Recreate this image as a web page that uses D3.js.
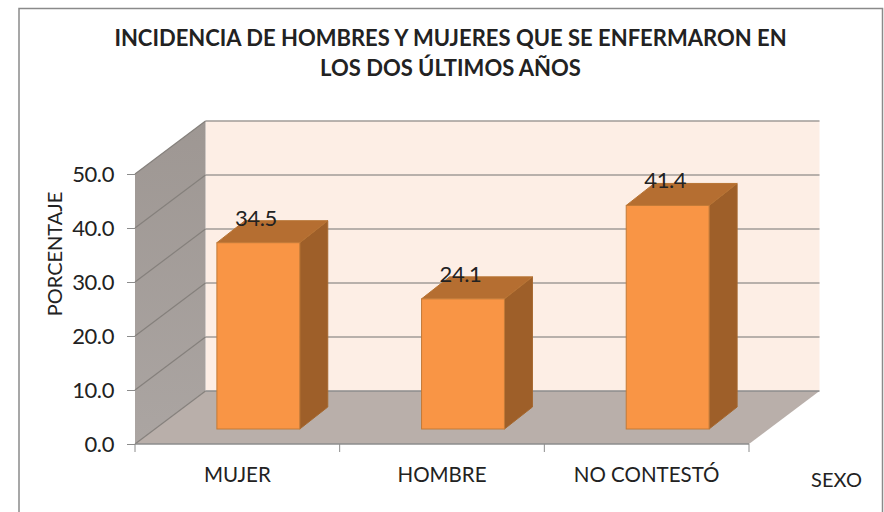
<!DOCTYPE html>
<html>
<head>
<meta charset="utf-8">
<script src="https://cdn.jsdelivr.net/npm/d3@7"></script>
<style>
body { margin: 0; background: #fff; }
text { font-family: Lato, "Open Sans", sans-serif; fill: #222; }
.axis path { display: none; }
.axis line { stroke: #8c8c8c; }
</style>
</head>
<body>
<div id="chart"></div>
<script>
//chart values
var categories = ["MUJER", "HOMBRE", "NO CONTESTÓ"];
var values = [34.5, 24.1, 41.4];
var yTicks = [0, 10, 20, 30, 40, 50];
var titleLines = ["INCIDENCIA DE HOMBRES Y MUJERES QUE SE ENFERMARON EN", "LOS DOS ÚLTIMOS AÑOS"];

//svg dimensions
var svgW = 884;
var svgH = 512;

//plot box, front edge of the floor
var left = 135, right = 749, bottom = 444, top50 = 174;

//3d offsets: wall depth and bar depth
var depthX = 70.5, depthY = -53;
var barDepthX = 28, barDepthY = -22;
//bars stand a bit behind the front edge of the floor
var barShiftX = 21, barShiftY = -15;

var svg = d3.select("#chart").append("svg")
    .attr("width", svgW)
    .attr("height", svgH);

//side wall gets lighter towards the floor
var wallGradient = svg.append("defs").append("linearGradient")
    .attr("id", "sideWall")
    .attr("x1", 0).attr("x2", 0)
    .attr("y1", 0).attr("y2", 1);
wallGradient.append("stop").attr("offset", "0%").attr("stop-color", "#9e9793");
wallGradient.append("stop").attr("offset", "100%").attr("stop-color", "#aba5a2");

//scales
var x = d3.scaleBand()
    .domain(categories)
    .range([left, right])
    .paddingInner(0.595)
    .paddingOuter(0.2975);

var y = d3.scaleLinear()
    .domain([0, 50])
    .range([bottom, top50]);

function poly(points, fill, stroke) {
    return svg.append("polygon")
        .attr("points", points.map(p => p.join(",")).join(" "))
        .attr("fill", fill)
        .attr("stroke", stroke || "none");
}

//outer frame
svg.append("path")
    .attr("d", "M19,512V8.5H882.5V512")
    .attr("fill", "none")
    .attr("stroke", "#8a8a8a")
    .attr("stroke-width", 1.5);

//back wall
poly([[left + depthX, y(50) + depthY], [right + depthX, y(50) + depthY],
    [right + depthX, y(0) + depthY], [left + depthX, y(0) + depthY]], "#fdeee5");

//side wall
poly([[left, y(50)], [left + depthX, y(50) + depthY],
    [left + depthX, y(0) + depthY], [left, y(0)]], "url(#sideWall)");

//floor
poly([[left, y(0)], [left + depthX, y(0) + depthY],
    [right + depthX, y(0) + depthY], [right, y(0)]], "#b9afaa");

//gridlines on the back wall
svg.append("g")
    .attr("stroke-width", 1.5)
    .selectAll("line")
    .data(yTicks)
    .enter()
    .append("line")
    .attr("x1", left + depthX)
    .attr("x2", right + depthX)
    .attr("y1", d => y(d) + depthY)
    .attr("y2", d => y(d) + depthY)
    .attr("stroke", d => d === 0 ? "#8c8c8c" : "#a19b97");

//gridlines on the side wall
svg.append("g")
    .attr("stroke-width", 1.2)
    .selectAll("line")
    .data(yTicks)
    .enter()
    .append("line")
    .attr("x1", left)
    .attr("x2", left + depthX)
    .attr("y1", d => y(d))
    .attr("y2", d => y(d) + depthY)
    .attr("stroke", "#85807c");

//bars
var barGroup = svg.selectAll(".bar")
    .data(values)
    .enter()
    .append("g")
    .classed("bar", true);

barGroup.each(function(d, i) {
    var g = d3.select(this);
    var x0 = x(categories[i]) + barShiftX;
    var x1 = x0 + x.bandwidth();
    var yTop = y(d) + barShiftY;
    var yBase = y(0) + barShiftY;
    var pts = a => a.map(p => p.join(",")).join(" ");

    //right side
    g.append("polygon")
        .attr("points", pts([[x1, yTop], [x1 + barDepthX, yTop + barDepthY], [x1 + barDepthX, yBase + barDepthY], [x1, yBase]]))
        .attr("fill", "#9e5f29")
        .attr("stroke", "#a5682f");

    //top
    g.append("polygon")
        .attr("points", pts([[x0, yTop], [x0 + barDepthX, yTop + barDepthY], [x1 + barDepthX, yTop + barDepthY], [x1, yTop]]))
        .attr("fill", "#b56e31")
        .attr("stroke", "#b87434");

    //front
    g.append("rect")
        .attr("x", x0)
        .attr("y", yTop)
        .attr("width", x.bandwidth())
        .attr("height", yBase - yTop)
        .attr("fill", "#f99545")
        .attr("stroke", "#c27a38");

    //value label
    g.append("text")
        .attr("x", x0 + 39)
        .attr("y", yTop - 17)
        .attr("text-anchor", "middle")
        .attr("font-size", "22px")
        .attr("letter-spacing", "-0.4px")
        .text(d3.format(".1f")(d));
});

//left axis
var yAxis = svg.append("g")
    .classed("axis", true)
    .attr("transform", `translate(${left}, 0)`)
    .call(d3.axisLeft(y).tickValues(yTicks).tickFormat(d3.format(".1f")).tickSize(8).tickPadding(13));

yAxis.selectAll("text")
    .attr("font-size", "22px")
    .attr("letter-spacing", "-0.4px");

//bottom axis, labels in the middle of each category
var xAxis = svg.append("g")
    .classed("axis", true)
    .attr("transform", `translate(0, ${bottom})`)
    .call(d3.axisBottom(x).tickSize(0).tickPadding(23));

xAxis.selectAll("line").remove();
xAxis.selectAll("text").attr("font-size", "20.5px").attr("font-family", "Lato");

//bottom axis line and the ticks between categories
var edges = d3.range(categories.length + 1).map(i => left + i * x.step());
svg.append("line")
    .attr("x1", left).attr("x2", right)
    .attr("y1", bottom).attr("y2", bottom)
    .attr("stroke", "#8c8c8c")
    .attr("stroke-width", 1.5);
svg.selectAll(".edge")
    .data(edges)
    .enter()
    .append("line")
    .classed("edge", true)
    .attr("x1", d => d).attr("x2", d => d)
    .attr("y1", bottom).attr("y2", bottom + 8)
    .attr("stroke", "#8c8c8c");

//title
svg.selectAll(".title")
    .data(titleLines)
    .enter()
    .append("text")
    .classed("title", true)
    .attr("x", 450.5)
    .attr("y", (d, i) => 46 + i * 30)
    .attr("text-anchor", "middle")
    .attr("font-size", "22px")
    .attr("font-weight", "bold")
    .text(d => d);

//axis titles
svg.append("text")
    .attr("transform", "translate(62, 254) rotate(-90)")
    .attr("text-anchor", "middle")
    .attr("font-size", "20px")
    .text("PORCENTAJE");

svg.append("text")
    .attr("x", 836.5)
    .attr("y", 487)
    .attr("text-anchor", "middle")
    .attr("font-size", "20px")
    .text("SEXO");
</script>
</body>
</html>
